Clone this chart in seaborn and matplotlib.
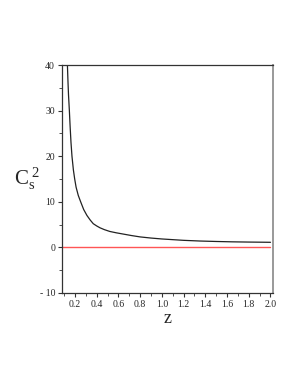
import numpy as np
import pandas as pd
import seaborn as sns
import matplotlib
matplotlib.use("Agg")
import matplotlib.pyplot as plt
from matplotlib.ticker import MultipleLocator, FixedLocator

# values
z_vals = [0.130, 0.135, 0.140, 0.148, 0.155, 0.163, 0.172, 0.185, 0.197, 0.210,
          0.230, 0.252, 0.280, 0.310, 0.340, 0.368, 0.400, 0.430, 0.470, 0.520,
          0.580, 0.650, 0.720, 0.800, 0.900, 1.000, 1.100, 1.200, 1.350, 1.500,
          1.650, 1.800, 2.000]
cs2_vals = [40.0, 36.5, 33.5, 30.0, 26.5, 23.0, 20.0, 17.0, 15.0, 13.2,
            11.4, 10.0, 8.3, 7.0, 6.0, 5.2, 4.7, 4.3, 3.9, 3.5,
            3.2, 2.9, 2.6, 2.3, 2.05, 1.85, 1.7, 1.55, 1.4, 1.3,
            1.22, 1.17, 1.12]
zero_z = [0.08, 2.0]
zero_vals = [0.0, 0.0]
x_ticks = [0.2, 0.4, 0.6, 0.8, 1.0, 1.2, 1.4, 1.6, 1.8, 2.0]
y_ticks = [-10, 0, 10, 20, 30, 40]
y_tick_labels = ["- 10", "0", "10", "20", "30", "40"]

sns.set_style("ticks")
plt.rcParams["font.family"] = ["Liberation Serif", "DejaVu Serif"]
plt.rcParams["mathtext.fontset"] = "custom"
plt.rcParams["mathtext.rm"] = "Liberation Serif"
plt.rcParams["mathtext.it"] = "Liberation Serif"

df = pd.DataFrame({"z": z_vals, "cs2": cs2_vals})
df0 = pd.DataFrame({"z": zero_z, "cs2": zero_vals})

fig = plt.figure(figsize=(2.98, 3.85), dpi=100)
ax = fig.add_axes([0.208, 0.239, 0.707, 0.592])

sns.lineplot(data=df0, x="z", y="cs2", ax=ax, color="#ff5555", lw=1.0)
sns.lineplot(data=df, x="z", y="cs2", ax=ax, color="#222222", lw=0.9)

ax.set_xlim(0.08, 2.02)
ax.set_ylim(-10, 40)

ax.xaxis.set_major_locator(FixedLocator(x_ticks))
ax.xaxis.set_minor_locator(MultipleLocator(0.1))
ax.yaxis.set_major_locator(FixedLocator(y_ticks))
ax.yaxis.set_minor_locator(MultipleLocator(5))
ax.set_xticklabels([f"{t:.1f}" for t in x_ticks])
ax.set_yticklabels(y_tick_labels)
ax.tick_params(axis="both", which="major", length=3, width=0.8, labelsize=7,
               pad=2, color="#333333")
ax.tick_params(axis="both", which="minor", length=2, width=0.6, color="#333333")

for side in ["left", "top", "bottom"]:
    ax.spines[side].set_visible(True)
    ax.spines[side].set_color("#333333")
    ax.spines[side].set_linewidth(0.9)
ax.spines["right"].set_visible(True)
ax.spines["right"].set_color("#999999")
ax.spines["right"].set_linewidth(1.4)

ax.set_xlabel("z", fontsize=13, labelpad=1)
ax.set_ylabel(r"$\mathregular{C_s^{\;2}}$", fontsize=15, rotation=0, labelpad=9,
              va="center")

fig.savefig("out.png", dpi=100)
